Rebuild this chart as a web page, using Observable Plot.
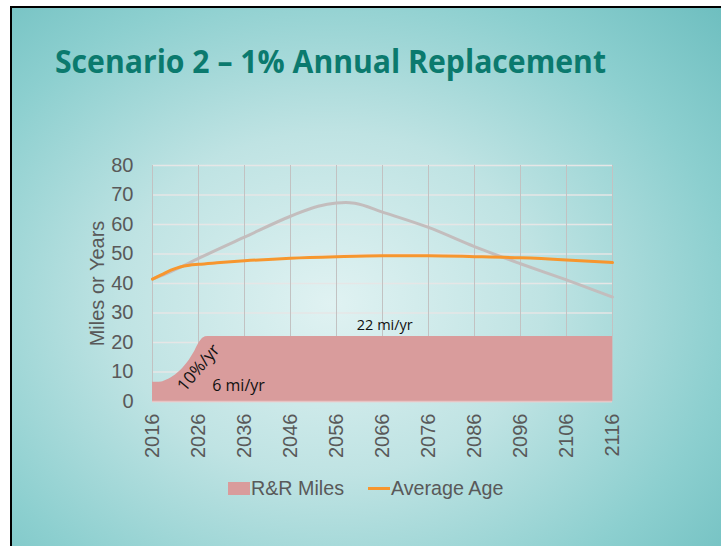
<!DOCTYPE html>
<html>
<head>
<meta charset="utf-8">
<script src="https://cdn.jsdelivr.net/npm/d3@7"></script>
<script src="https://cdn.jsdelivr.net/npm/@observablehq/plot@0.6"></script>
<style>
  html, body { margin: 0; padding: 0; background: #fff; }
  #page { position: relative; width: 721px; height: 546px; overflow: hidden; background: #fff; }
  #slide { position: absolute; left: 10px; top: 6px; right: 0; bottom: 0;
    border-left: 2px solid #000; border-top: 2px solid #000;
    background: radial-gradient(ellipse 75% 80% at 45% 55%, #e0f2f2 0%, #bfe3e3 40%, #8ccfcf 75%, #6fbfc0 100%); }
  #chart { position: absolute; left: 0; top: 0; }
  #title { position: absolute; left: 0; top: 0; }
  .leg { position: absolute; font-family: "Liberation Sans", Arial, sans-serif; font-size: 19.7px; color: #595959; line-height: 1; }
</style>
</head>
<body>
<div id="page">
  <div id="slide"></div>
  <svg id="title" width="721" height="100">
    <text x="55" y="73" fill="#0b7a6e" font-family="Open Sans" font-weight="bold" font-size="32" textLength="551" lengthAdjust="spacingAndGlyphs">Scenario 2 – 1% Annual Replacement</text>
  </svg>
  <div id="chart"></div>
  <div class="leg" style="left:228px;top:482px;width:22px;height:13px;background:#d99c9c"></div>
  <div class="leg" style="left:251px;top:479px">R&amp;R Miles</div>
  <div class="leg" style="left:368px;top:487px;width:22px;height:2.5px;background:#f7962e"></div>
  <div class="leg" style="left:391px;top:479px">Average Age</div>
</div>
<script>
// R&R miles per year (area)
const rrYears = [2016, 2017, 2018, 2019, 2020, 2021, 2022, 2023, 2024, 2025, 2026, 2027, 2028, 2116];
const rrMiles = [6.5, 6.5, 6.6, 7.2, 8.0, 9.0, 10.3, 12.0, 14.0, 16.5, 19.5, 21.5, 22, 22];

// Average Age (orange line)
const ageYears = [2016, 2018, 2020, 2022, 2024, 2026, 2030, 2036, 2046, 2056, 2066, 2076, 2086, 2096, 2106, 2116];
const avgAge = [41.5, 43.0, 44.5, 45.6, 46.2, 46.5, 47.0, 47.7, 48.6, 49.1, 49.4, 49.4, 49.1, 48.7, 48.0, 47.1];

// Unlabeled grey line
const greyYears = [2016, 2020, 2026, 2036, 2046, 2052, 2056, 2058, 2060, 2066, 2076, 2086, 2096, 2106, 2116];
const greyVals = [41.5, 44.0, 48.5, 55.7, 62.8, 66.2, 67.3, 67.5, 67.2, 64.2, 59.0, 52.5, 46.7, 41.2, 35.4];

const xTicks = [2016, 2026, 2036, 2046, 2056, 2066, 2076, 2086, 2096, 2106, 2116];
const yTicks = [0, 10, 20, 30, 40, 50, 60, 70, 80];
const yLabel = "Miles or Years";

const notes = [
  {x: 2066.5, y: 25.8, text: "22 mi/yr", rotate: 0, size: 14.5},
  {x: 2034.7, y: 5.4, text: "6 mi/yr", rotate: 0, size: 16},
  {x: 2026.0, y: 11.4, text: "10%/yr", rotate: -50, size: 17}
];

const rr = rrYears.map((x, i) => ({x, y: rrMiles[i]}));
const age = ageYears.map((x, i) => ({x, y: avgAge[i]}));
const grey = greyYears.map((x, i) => ({x, y: greyVals[i]}));

const chart = Plot.plot({
  width: 721,
  height: 546,
  marginLeft: 152,
  marginRight: 109,
  marginTop: 165,
  marginBottom: 145,
  style: {background: "transparent", fontFamily: "Liberation Sans, Arial, sans-serif", fontSize: "20px", color: "#595959", overflow: "visible"},
  x: {domain: [2016, 2116]},
  y: {domain: [0, 80]},
  marks: [
    Plot.gridY(yTicks, {stroke: "#e6e6e6", strokeOpacity: 1, strokeWidth: 1.5}),
    Plot.gridX(xTicks, {stroke: "#c2c2c2", strokeOpacity: 1, strokeWidth: 1}),
    Plot.areaY(rr, {x: "x", y: "y", fill: "#d99c9c", curve: "monotone-x"}),
    Plot.ruleY([0], {stroke: "#e8c4c4", strokeWidth: 1.5}),
    Plot.line(grey, {x: "x", y: "y", stroke: "#c3bdbd", strokeWidth: 3, curve: "monotone-x"}),
    Plot.line(age, {x: "x", y: "y", stroke: "#f7962e", strokeWidth: 3, curve: "monotone-x"}),
    Plot.axisY({ticks: yTicks, tickSize: 0, tickPadding: 19, label: null, fontSize: 20}),
    Plot.axisX({ticks: xTicks, tickSize: 0, tickPadding: 12, tickRotate: -90, tickFormat: d => String(d), label: null, fontSize: 20}),
    Plot.text([yLabel], {frameAnchor: "left", dx: -55, rotate: -90, textAnchor: "middle", fontSize: 20, fill: "#595959"}),
    Plot.text(notes, {x: "x", y: "y", text: "text", rotate: "rotate", fontSize: "size", fill: "#111", fontFamily: "Open Sans"})
  ]
});
document.getElementById("chart").appendChild(chart);
</script>
</body>
</html>
